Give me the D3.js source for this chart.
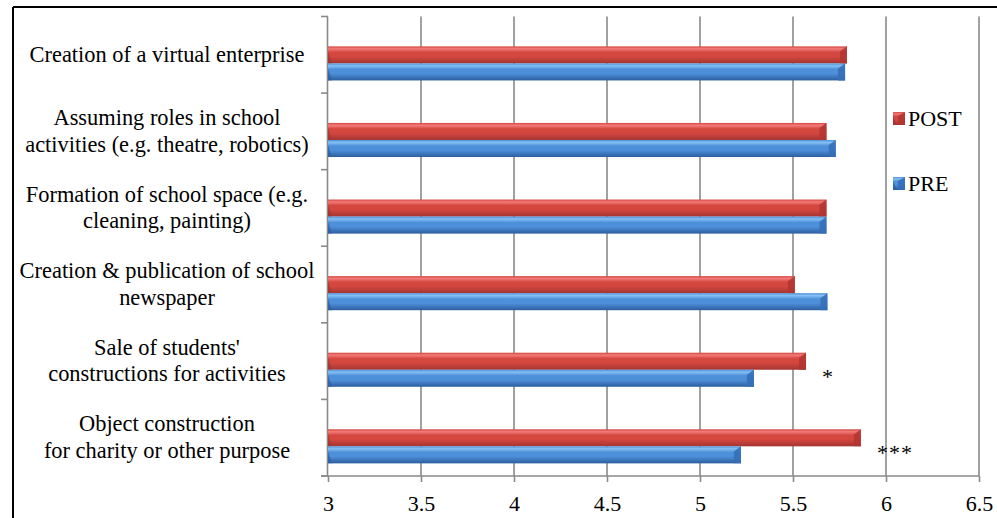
<!DOCTYPE html>
<html>
<head>
<meta charset="utf-8">
<script src="https://cdn.jsdelivr.net/npm/d3@7"></script>
<style>
  html, body { margin: 0; padding: 0; background: #fff; }
  svg { display: block; }
</style>
</head>
<body>
<svg id="chart" width="997" height="518"></svg>
<script>
// ---------- data ----------
const categories = [
  "Creation of a virtual enterprise",
  "Assuming roles in school\nactivities (e.g. theatre, robotics)",
  "Formation of school space (e.g.\ncleaning, painting)",
  "Creation & publication of school\nnewspaper",
  "Sale of students'\nconstructions for activities",
  "Object construction\nfor charity or other purpose"
];
const seriesNames = ["POST", "PRE"];
const postValues = [5.79, 5.68, 5.68, 5.51, 5.57, 5.865];
const preValues  = [5.78, 5.73, 5.68, 5.685, 5.29, 5.22];
const significance = ["", "", "", "", "*", "***"];
const xTicks = [3, 3.5, 4, 4.5, 5, 5.5, 6, 6.5];
const xTickLabels = ["3", "3.5", "4", "4.5", "5", "5.5", "6", "6.5"];

// ---------- setup ----------
const FONT = '"Liberation Serif"';
const svg = d3.select("#chart");
const W = 997, H = 518;
const plot = { left: 328, right: 979, top: 16.5, bottom: 476 };

const x = d3.scaleLinear().domain([3, 6.5]).range([plot.left, plot.right]);
const y = d3.scaleBand().domain(categories).range([plot.top, plot.bottom]).padding(0);
const bw = y.bandwidth();
const ys = d3.scaleBand().domain(seriesNames).range([bw * 0.39, bw * 0.835]).padding(0);

const colors = {
  POST: { light: "#f27b79", base: "#d4473f", dark: "#a33532", end: "#b33532" },
  PRE:  { light: "#84c0f3", base: "#4d8fd9", dark: "#2d5e9f", end: "#356fb8" }
};

const defs = svg.append("defs");
seriesNames.forEach(s => {
  const c = colors[s];
  const g = defs.append("linearGradient").attr("id", "grad-" + s)
    .attr("x1", 0).attr("y1", 0).attr("x2", 0).attr("y2", 1);
  g.append("stop").attr("offset", "0%").attr("stop-color", c.base);
  g.append("stop").attr("offset", "14%").attr("stop-color", c.light);
  g.append("stop").attr("offset", "35%").attr("stop-color", c.base);
  g.append("stop").attr("offset", "60%").attr("stop-color", c.base);
  g.append("stop").attr("offset", "100%").attr("stop-color", c.dark);
});

// frame
svg.append("line").attr("x1", 13).attr("x2", W).attr("y1", 7).attr("y2", 7)
  .attr("stroke", "#000").attr("stroke-width", 2);
svg.append("line").attr("x1", 13).attr("x2", 13).attr("y1", 7).attr("y2", H)
  .attr("stroke", "#000").attr("stroke-width", 2);

// gridlines
svg.append("g").selectAll("line").data(xTicks.filter(d => d > 3)).join("line")
  .attr("x1", d => x(d)).attr("x2", d => x(d))
  .attr("y1", plot.top).attr("y2", plot.bottom)
  .attr("stroke", "#8a8a8a").attr("stroke-width", 1.6);

// x axis
const xAxis = d3.axisBottom(x).tickValues(xTicks)
  .tickFormat((d, i) => xTickLabels[i]).tickSize(6).tickPadding(13);
const gx = svg.append("g").attr("transform", `translate(0,${plot.bottom})`).call(xAxis);
gx.select(".domain").attr("d", `M${plot.left - 7},0H${plot.right}`)
  .attr("stroke", "#8a8a8a").attr("stroke-width", 1.6);
gx.selectAll(".tick line").attr("stroke", "#8a8a8a").attr("stroke-width", 1.6);
gx.selectAll(".tick text").style("font-family", FONT).style("font-size", "22px").attr("fill", "#000");

// y axis line & ticks at band boundaries
const boundaries = categories.map(c => y(c)).concat([plot.bottom]);
svg.append("line").attr("x1", plot.left - 0.5).attr("x2", plot.left - 0.5)
  .attr("y1", plot.top).attr("y2", plot.bottom)
  .attr("stroke", "#8a8a8a").attr("stroke-width", 1.6);
svg.append("g").selectAll("line").data(boundaries).join("line")
  .attr("x1", plot.left - 7).attr("x2", plot.left)
  .attr("y1", d => d).attr("y2", d => d)
  .attr("stroke", "#8a8a8a").attr("stroke-width", 1.6);

// category labels
const lineH = 26.5;
const labelX = 167;
svg.append("g").selectAll("text").data(categories).join("text")
  .attr("text-anchor", "middle")
  .style("font-family", FONT).style("font-size", "22.4px").attr("fill", "#000")
  .each(function (d) {
    const lines = d.split("\n");
    const cy = y(d) + bw / 2 + 5;
    const t = d3.select(this);
    lines.forEach((ln, i) => {
      t.append("tspan").attr("x", labelX)
        .attr("y", cy + (i - (lines.length - 1) / 2) * lineH + 2)
        .text(ln);
    });
  });

// bars
function drawBar(g, x0, x1, y0, h, s) {
  const c = colors[s];
  g.append("rect").attr("x", x0).attr("y", y0).attr("width", x1 - x0).attr("height", h)
    .attr("fill", `url(#grad-${s})`);
  const bv = 7;
  g.append("path")
    .attr("d", `M${x1 - bv},${y0 + h * 0.3}L${x1},${y0}L${x1},${y0 + h}L${x1 - bv},${y0 + h}Z`)
    .attr("fill", c.end).attr("opacity", 0.9);
  g.append("path")
    .attr("d", `M${x0},${y0 + h * 0.3}L${x0 + 4},${y0 + h}L${x0},${y0 + h}Z`)
    .attr("fill", c.dark).attr("opacity", 0.7);
}

const barsG = svg.append("g");
categories.forEach((cat, i) => {
  const vals = { POST: postValues[i], PRE: preValues[i] };
  seriesNames.forEach(s => {
    drawBar(barsG, x(3), x(vals[s]), y(cat) + ys(s), ys.bandwidth(), s);
  });
});

// significance marks
svg.append("g").selectAll("text").data(categories).join("text")
  .attr("x", (d, i) => x(Math.max(postValues[i], preValues[i])) + 16)
  .attr("y", d => y(d) + bw * 0.39 + ys.bandwidth() + 14)
  .style("font-family", FONT).style("font-size", "22px").style("letter-spacing", "1px")
  .attr("fill", "#000")
  .text((d, i) => significance[i]);

// legend
const legend = svg.append("g");
seriesNames.forEach((s, i) => {
  const ly = 112 + i * 65;
  drawBar(legend, 893, 905, ly, 13, s);
  legend.append("text").attr("x", 908).attr("y", ly + 13.5)
    .style("font-family", FONT).style("font-size", "22px").attr("fill", "#000").text(s);
});
</script>
</body>
</html>
